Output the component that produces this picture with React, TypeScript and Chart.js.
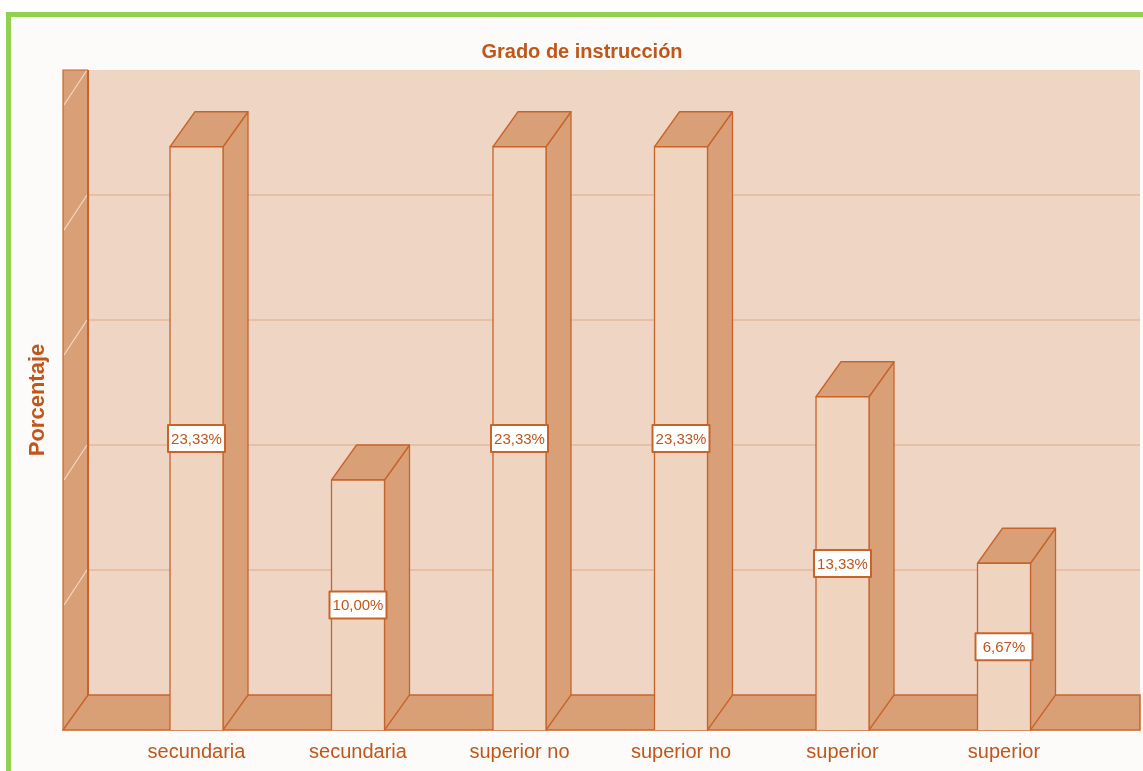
import React, { useEffect, useRef } from "react";
import { Chart, registerables } from "chart.js";

Chart.register(...registerables);

// ---- data ----
const categories = ["secundaria", "secundaria", "superior no", "superior no", "superior", "superior"];
const percentages = [23.33, 10.0, 23.33, 23.33, 13.33, 6.67];
const valueLabels = ["23,33%", "10,00%", "23,33%", "23,33%", "13,33%", "6,67%"];
const yGridValues = [0, 5, 10, 15, 20, 25];
const chartTitle = "Grado de instrucción";
const yAxisTitle = "Porcentaje";

// ---- style ----
const FONT = "'Liberation Sans', Arial, sans-serif";
const DX = -25; // back -> front horizontal depth offset
const DY = 35; // back -> front vertical depth offset
const WALL = "#efd6c4";
const FRONT = "#efd4c0";
const SHADE = "#d9a078";
const EDGE = "#c8642a";
const TEXT = "#c0561a";
const GRID = "#e6c0a4";
const DIAG = "#f1d8c6";

const bars3d = {
  id: "bars3d",
  beforeDatasetsDraw(chart: any) {
    const { ctx, chartArea: ca, scales } = chart;
    const ys = scales.y;
    const top = ys.getPixelForValue(25);
    const base = ys.getPixelForValue(0);
    const wallL = ca.left - 52.75;
    const wallR = ca.right + 30.25;
    ctx.save();
    // back wall
    ctx.fillStyle = WALL;
    ctx.fillRect(wallL, top, wallR - wallL, base - top);
    // grid lines on back wall
    ctx.strokeStyle = GRID;
    ctx.lineWidth = 2;
    yGridValues.forEach((v) => {
      if (v === 0 || v === 25) return;
      const gy = ys.getPixelForValue(v);
      ctx.beginPath();
      ctx.moveTo(wallL, gy);
      ctx.lineTo(wallR, gy);
      ctx.stroke();
    });
    // left wall
    ctx.fillStyle = SHADE;
    ctx.fillRect(wallL + DX, top, -DX, base + DY - top);
    ctx.strokeStyle = DIAG;
    ctx.lineWidth = 1.2;
    yGridValues.forEach((v) => {
      if (v === 0) return;
      const gy = ys.getPixelForValue(v);
      ctx.beginPath();
      ctx.moveTo(wallL - 1, gy);
      ctx.lineTo(wallL + DX + 1, gy + DY);
      ctx.stroke();
    });
    // floor
    ctx.fillStyle = SHADE;
    ctx.beginPath();
    ctx.moveTo(wallL + DX, base + DY);
    ctx.lineTo(wallL, base);
    ctx.lineTo(wallR, base);
    ctx.lineTo(wallR, base + DY);
    ctx.closePath();
    ctx.fill();
    ctx.strokeStyle = EDGE;
    ctx.lineWidth = 1.5;
    ctx.stroke();
    // left wall edges
    ctx.lineWidth = 2;
    ctx.beginPath();
    ctx.moveTo(wallL, base);
    ctx.lineTo(wallL, top);
    ctx.stroke();
    ctx.lineWidth = 1.2;
    ctx.beginPath();
    ctx.moveTo(wallL + DX, base + DY);
    ctx.lineTo(wallL + DX, top);
    ctx.lineTo(wallL, top);
    ctx.stroke();
    ctx.restore();
  },
  afterDatasetsDraw(chart: any) {
    const { ctx } = chart;
    const meta = chart.getDatasetMeta(0);
    ctx.save();
    ctx.lineJoin = "round";
    meta.data.forEach((el: any, i: number) => {
      const p = el.getProps(["x", "y", "base", "width"], true);
      const bx0 = p.x - p.width / 2;
      const bx1 = p.x + p.width / 2;
      const by = p.y;
      const bb = p.base;
      const fx0 = bx0 + DX;
      const fx1 = bx1 + DX;
      const fy = by + DY;
      const fb = bb + DY;
      ctx.strokeStyle = EDGE;
      ctx.lineWidth = 1.3;
      // side face
      ctx.fillStyle = SHADE;
      ctx.beginPath();
      ctx.moveTo(fx1, fy);
      ctx.lineTo(bx1, by);
      ctx.lineTo(bx1, bb);
      ctx.lineTo(fx1, fb);
      ctx.closePath();
      ctx.fill();
      ctx.stroke();
      // top face
      ctx.beginPath();
      ctx.moveTo(fx0, fy);
      ctx.lineTo(fx1, fy);
      ctx.lineTo(bx1, by);
      ctx.lineTo(bx0, by);
      ctx.closePath();
      ctx.fill();
      ctx.stroke();
      // front face
      ctx.fillStyle = FRONT;
      ctx.fillRect(fx0, fy, fx1 - fx0, fb - fy);
      ctx.beginPath();
      ctx.moveTo(fx0, fb);
      ctx.lineTo(fx0, fy);
      ctx.lineTo(fx1, fy);
      ctx.lineTo(fx1, fb);
      ctx.stroke();
      // value label
      const cx = (fx0 + fx1) / 2;
      const cy = (fy + fb) / 2;
      const bw = 57;
      const bh = 27;
      ctx.fillStyle = "#ffffff";
      ctx.fillRect(cx - bw / 2, cy - bh / 2, bw, bh);
      ctx.lineWidth = 2;
      ctx.strokeRect(cx - bw / 2, cy - bh / 2, bw, bh);
      ctx.fillStyle = TEXT;
      ctx.font = `15px ${FONT}`;
      ctx.textAlign = "center";
      ctx.textBaseline = "middle";
      ctx.fillText(valueLabels[i], cx, cy + 1);
    });
    ctx.restore();
  },
  afterDraw(chart: any) {
    const { ctx } = chart;
    ctx.save();
    ctx.fillStyle = TEXT;
    ctx.font = `bold 20px ${FONT}`;
    ctx.textAlign = "center";
    ctx.textBaseline = "alphabetic";
    ctx.fillText(chartTitle, 582, 58);
    ctx.translate(44, 400);
    ctx.rotate(-Math.PI / 2);
    ctx.font = `bold 22px ${FONT}`;
    ctx.fillText(yAxisTitle, 0, 0);
    ctx.restore();
  },
};

export default function App() {
  const ref = useRef<HTMLCanvasElement | null>(null);
  useEffect(() => {
    if (!ref.current) return;
    Chart.defaults.font.family = FONT;
    const chart = new Chart(ref.current, {
      type: "bar",
      data: {
        labels: categories,
        datasets: [
          {
            data: percentages,
            backgroundColor: "rgba(0,0,0,0)",
            borderWidth: 0,
            categoryPercentage: 1,
            barPercentage: 53 / 161.5,
          },
        ],
      },
      options: {
        responsive: false,
        animation: false,
        events: [],
        layout: { padding: { left: 140.75, right: 33.25, top: 70, bottom: 0 } },
        plugins: {
          legend: { display: false },
          title: { display: false },
          tooltip: { enabled: false },
        },
        scales: {
          x: {
            type: "category",
            offset: true,
            grid: { display: false, drawTicks: false },
            border: { display: false },
            ticks: {
              color: TEXT,
              font: { size: 20, family: FONT },
              padding: 45,
              labelOffset: -25,
              maxRotation: 0,
              autoSkip: false,
            },
            afterFit: (axis: any) => {
              axis.height = 76;
            },
          },
          y: {
            display: false,
            min: 0,
            max: 25,
          },
        },
      },
      plugins: [bars3d],
    });
    return () => chart.destroy();
  }, []);
  return (
    <div style={{ position: "fixed", left: 0, top: 0, width: 1143, height: 771, background: "#ffffff", overflow: "hidden" }}>
      <div
        style={{
          position: "absolute",
          left: 6,
          top: 12,
          width: 1300,
          height: 900,
          boxSizing: "border-box",
          border: "5px solid #92d050",
          background: "#fdfbf9",
        }}
      />
      <canvas ref={ref} width={1143} height={771} style={{ position: "absolute", left: 0, top: 0, display: "block" }} />
    </div>
  );
}
